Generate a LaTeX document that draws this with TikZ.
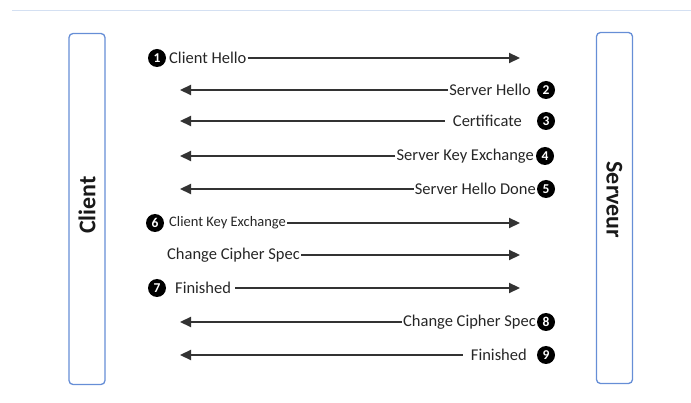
\documentclass[tikz,border=0pt]{standalone}
\usepackage{fontspec}
\setmainfont{Carlito}
\usetikzlibrary{arrows.meta}
\definecolor{boxblue}{RGB}{102,142,214}
\definecolor{toplinec}{RGB}{212,224,242}
\begin{document}
\begin{tikzpicture}[x=1pt,y=-1pt,
  msg/.style={draw=black!80, line width=2.2pt, -{Triangle[length=11pt,width=10pt]}},
  lbl/.style={inner sep=1pt, text=black!85, font=\fontsize{16.5}{18}\selectfont},
  smalllbl/.style={lbl, font=\fontsize{14.5}{16}\selectfont},
  num/.style={circle, fill=black, text=white, inner sep=0pt, minimum size=18pt, font=\fontsize{13.5}{14}\selectfont\bfseries},
  party/.style={draw=boxblue, line width=1.3pt, rounded corners=4pt, minimum width=36pt, minimum height=351pt},
  partylbl/.style={font=\fontsize{24}{26}\selectfont\bfseries, text=black!90}
  ]
\useasboundingbox (0,0) rectangle (691,403);
\draw[toplinec, line width=1pt] (12,11) -- (691,11);

% parties
\node[party] (client) at (87,209) {};
\node[partylbl, rotate=90] (clientlbl) at (87,205) {Client};
\node[party] (server) at (614.5,208) {};
\node[partylbl, rotate=-90] (serverlbl) at (614.5,200) {Serveur};

% 1 Client Hello
\node[num] (n1) at (157,58) {1};
\node[lbl, anchor=west] (t1) at (168,58) {Client Hello};
\coordinate (e1) at (520,58);
\draw[msg] (t1.east) -- (e1);

% 2 Server Hello
\node[num] (n2) at (546,90) {2};
\node[lbl, anchor=east] (t2) at (532,90) {Server Hello};
\coordinate (e2) at (180,90);
\draw[msg] (t2.west) -- (e2);

% 3 Certificate
\node[num] (n3) at (546,121) {3};
\node[lbl, inner xsep=8pt, anchor=east] (t3) at (530,121) {Certificate};
\coordinate (e3) at (180,121);
\draw[msg] (t3.west) -- (e3);

% 4 Server Key Exchange
\node[num] (n4) at (545,156) {4};
\node[lbl, anchor=east] (t4) at (535,156) {Server Key Exchange};
\coordinate (e4) at (180,156);
\draw[msg] (t4.west) -- (e4);

% 5 Server Hello Done
\node[num] (n5) at (546,189) {5};
\node[lbl, anchor=east] (t5) at (537,189) {Server Hello Done};
\coordinate (e5) at (180,189);
\draw[msg] (t5.west) -- (e5);

% 6 Client Key Exchange
\node[num] (n6) at (155,223) {6};
\node[smalllbl, anchor=west] (t6) at (168,223) {Client Key Exchange};
\coordinate (e6) at (520,223);
\draw[msg] (t6.east) -- (e6);

% Change Cipher Spec (client)
\node[lbl, anchor=west] (t7) at (166,255) {Change Cipher Spec};
\coordinate (e7) at (520,255);
\draw[msg] (t7.east) -- (e7);

% 7 Finished
\node[num] (n7) at (157,288) {7};
\node[lbl, inner xsep=4pt, anchor=west] (t8) at (171,288) {Finished};
\coordinate (e8) at (520,288);
\draw[msg] (t8.east) -- (e8);

% 8 Change Cipher Spec (server)
\node[num] (n8) at (546,322) {8};
\node[lbl, anchor=east] (t9) at (537,322) {Change Cipher Spec};
\coordinate (e9) at (180,322);
\draw[msg] (t9.west) -- (e9);

% 9 Finished
\node[num] (n9) at (546,355) {9};
\node[lbl, inner xsep=8pt, anchor=east] (t10) at (535,355) {Finished};
\coordinate (e10) at (180,355);
\draw[msg] (t10.west) -- (e10);
\end{tikzpicture}
\end{document}
